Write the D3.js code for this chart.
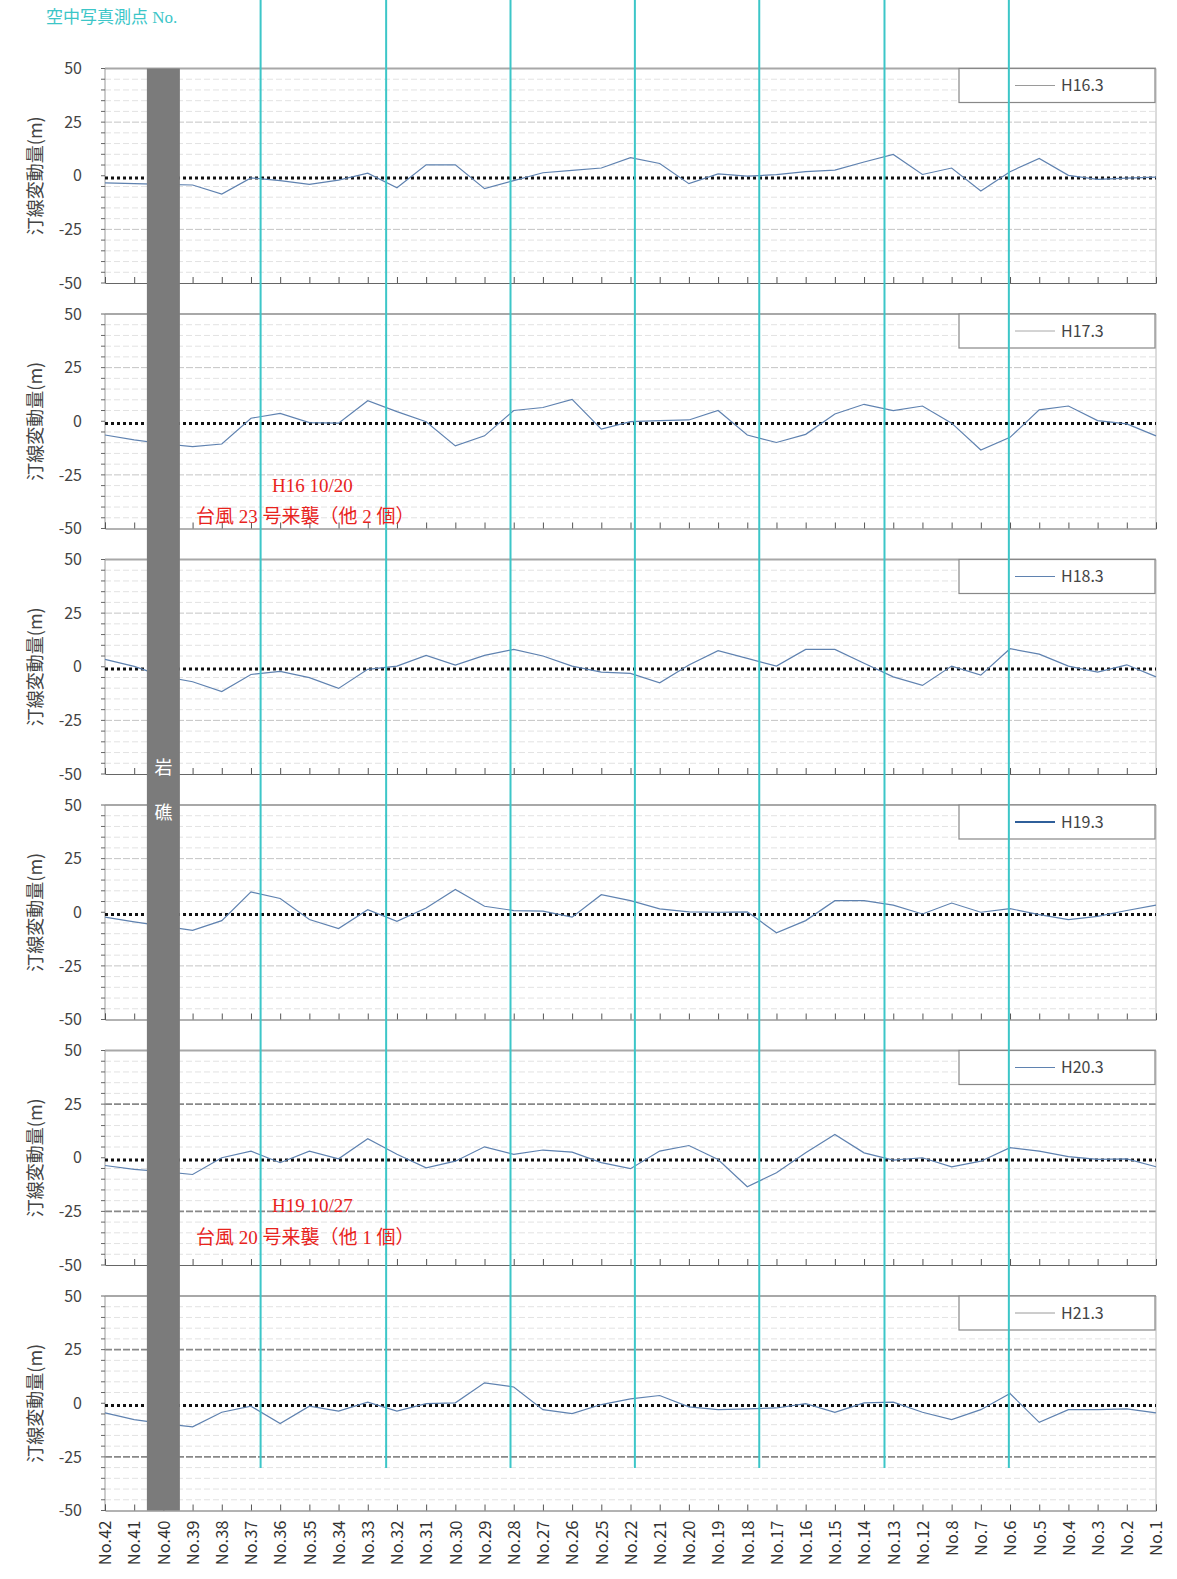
<!DOCTYPE html>
<html><head><meta charset="utf-8">
<script src="https://cdn.jsdelivr.net/npm/d3@7"></script>
<style>body{margin:0;background:#fff}</style>
</head><body>
<svg id="c" width="1177" height="1579"></svg>
<script>
// ---------- data ----------
const categories = ["No.42","No.41","No.40","No.39","No.38","No.37","No.36","No.35","No.34","No.33","No.32","No.31","No.30","No.29","No.28","No.27","No.26","No.25","No.22","No.21","No.20","No.19","No.18","No.17","No.16","No.15","No.14","No.13","No.12","No.8","No.7","No.6","No.5","No.4","No.3","No.2","No.1"];
const seriesNames = ["H16.3","H17.3","H18.3","H19.3","H20.3","H21.3"];
const h16 = [-3.3,-3.7,-4,-4.3,-8.5,-1,-2.3,-4,-2,1.2,-5.6,5.1,5.1,-6,-2.3,1.4,2.5,3.6,8.4,5.7,-3.7,0.9,-0.2,0.5,1.9,2.6,6.4,9.9,0.6,3.6,-7.1,1.9,8.1,0.2,-1.7,-1.1,-0.6];
const h17 = [-6.4,-8.7,-10.5,-11.8,-10.6,1.4,3.7,-0.6,-0.9,9.6,4.5,-0.2,-11.5,-6.8,5.0,6.4,10.2,-3.7,-0.2,0.3,0.6,5.0,-6.4,-9.9,-6.1,3.4,7.9,5.0,7.1,-0.9,-13.4,-7.5,5.3,7.1,0.3,-1.2,-6.8];
const h18 = [3.4,0.2,-4.5,-7,-11.6,-3.6,-2.2,-5.1,-10.1,-1.2,0.3,5.3,0.8,5.3,8.1,5.0,0.3,-2.5,-3.1,-7.5,0.8,7.5,3.9,0.3,8.1,8.1,1.6,-4.7,-8.7,0.3,-3.9,8.4,5.9,0.3,-2.5,0.9,-4.7];
const h19 = [-2.3,-4.5,-6.5,-8.4,-3.9,9.5,6.4,-3.4,-7.6,1.2,-4.2,2.0,10.6,2.8,0.8,0.5,-2.3,8.2,5.4,1.6,0.2,0,0.2,-9.6,-3.9,5.4,5.4,3.3,-0.8,4.3,0,1.7,-1.1,-3.4,-1.9,0.8,3.3];
const h20 = [-3.6,-5.4,-6.5,-7.8,0,3.1,-2.3,3.1,-0.5,8.9,1.6,-4.7,-1.6,5.1,1.6,3.6,2.6,-2.3,-5.1,3.1,5.7,-0.8,-13.5,-7,2.3,10.9,2.3,-1.1,0,-4.2,-1.6,4.7,3.1,0.5,-0.8,-0.5,-4.2];
const h21 = [-4.5,-7.6,-9.5,-11,-4.2,-1.4,-9.5,-1.4,-3.7,0.5,-3.7,-0.2,0.2,9.5,7.6,-3,-4.8,-0.6,2,3.6,-1.7,-3,-2.6,-2.2,-0.2,-4.2,0.2,0.5,-4.2,-7.6,-3,4.5,-8.9,-3,-3,-2.6,-4.5];
const seriesValues = [h16,h17,h18,h19,h20,h21];
const yTicks = [50,25,0,-25,-50];
const baseLineValue = -1;           // dotted reference line
const photoPoints = [5.33,9.63,13.89,18.15,22.41,26.70,30.96]; // 空中写真測点 positions (category index units)
const rockIndex = 2;                // No.40 岩礁
const annotations = [
  {panel:1, at:[-29.7,-44.4], lines:["H16 10/20","台風 23 号来襲（他 2 個）"]},
  {panel:4, at:[-22.3,-37.2], lines:["H19 10/27","台風 20 号来襲（他 1 個）"]}
];

// ---------- layout ----------
const svg = d3.select("#c");
const left = 105, right = 1156;
const top0 = 68.5, step = 245.5, ph = 214.5;
const x = d3.scalePoint().domain(categories).range([left, right]);
const xi = d3.scaleLinear().domain([0, categories.length-1]).range([left, right]);
const lineColor = "#5f82b0";
const legendColors = ["#9a9a9a","#a8a8a8","#5f82b0","#2f5f9a","#5f82b0","#9a9a9a"];
const legendWidths = [1,1,1.2,2,1.2,1];
const sans = "'Noto Sans CJK JP','Noto Sans',sans-serif";
const serif = "'Liberation Serif','DejaVu Serif','Noto Sans CJK JP',serif";
const yScales = [];

seriesValues.forEach((vals, p) => {
  const t = top0 + p*step, b = t + ph;
  const y = d3.scaleLinear().domain([-50,50]).range([b, t]);
  yScales.push(y);
  const g = svg.append("g");

  // gridlines every 5
  d3.range(-45, 50, 5).filter(v => v !== 0).forEach(v => {
    const strong = Math.abs(v) === 25;
    g.append("line").attr("x1", left).attr("x2", right).attr("y1", y(v)).attr("y2", y(v))
      .attr("stroke", strong ? (p >= 4 ? "#888" : "#c4c4c4") : "#e2e2e2")
      .attr("stroke-width", strong && p >= 4 ? 1.6 : 1)
      .attr("stroke-dasharray", strong ? "7,2" : "6,3");
  });

  // frame
  g.append("line").attr("x1", left).attr("x2", right).attr("y1", t).attr("y2", t).attr("stroke", "#a8a8a8").attr("stroke-width", 2);
  g.append("line").attr("x1", right).attr("x2", right).attr("y1", t).attr("y2", b).attr("stroke", "#b8b8b8").attr("stroke-width", 1);
  g.append("line").attr("x1", left).attr("x2", left).attr("y1", t).attr("y2", b).attr("stroke", "#999").attr("stroke-width", 1);

  // left minor ticks
  d3.range(-50, 51, 5).forEach(v => {
    g.append("line").attr("x1", left-4).attr("x2", left).attr("y1", y(v)).attr("y2", y(v)).attr("stroke", "#666").attr("stroke-width", 1);
  });

  // left axis labels
  const ax = g.append("g").attr("transform", `translate(${left-23},0)`)
    .call(d3.axisLeft(y).tickValues(yTicks).tickSize(0).tickPadding(0).tickFormat(d => String(d)));
  ax.select(".domain").remove();
  ax.selectAll("text").attr("font-family", sans).attr("font-size", 16).attr("fill", "#444");

  // bottom axis
  const bx = g.append("g").attr("transform", `translate(0,${b})`)
    .call(d3.axisBottom(x).tickSize(-6).tickFormat(p === 5 ? d => d : ""));
  bx.select(".domain").attr("stroke", "#666");
  bx.selectAll(".tick line").attr("stroke", "#555");
  if (p === 5) {
    bx.selectAll("text").attr("font-family", sans).attr("font-size", 16.5).attr("fill", "#333")
      .attr("transform", "rotate(-90)").attr("text-anchor", "end").attr("dx", -10).attr("dy", "0.35em").attr("y", 0).attr("x", 0);
  } else {
    bx.selectAll("text").remove();
  }

  // y label
  g.append("text").attr("transform", `translate(42,${(t+b)/2}) rotate(-90)`)
    .attr("text-anchor", "middle").attr("font-family", sans).attr("font-size", 18).attr("fill", "#444")
    .text("汀線変動量(m)");

  // dotted base line
  g.append("line").attr("x1", left).attr("x2", right).attr("y1", y(baseLineValue)).attr("y2", y(baseLineValue))
    .attr("stroke", "#111").attr("stroke-width", 3).attr("stroke-dasharray", "3,3");

  // data line
  const line = d3.line().x((d, i) => x(categories[i])).y(d => y(d));
  g.append("path").datum(vals).attr("d", line).attr("fill", "none").attr("stroke", lineColor).attr("stroke-width", 1.2);

  // legend
  const lx = 959, lw = 196, lh = 34;
  g.append("rect").attr("x", lx).attr("y", t).attr("width", lw).attr("height", lh).attr("fill", "#fff").attr("stroke", "#888").attr("stroke-width", 1.2);
  g.append("line").attr("x1", lx+56).attr("x2", lx+96).attr("y1", t+lh/2).attr("y2", t+lh/2)
    .attr("stroke", legendColors[p]).attr("stroke-width", legendWidths[p]);
  g.append("text").attr("x", lx+102).attr("y", t+lh/2).attr("dy", "0.35em").attr("font-family", sans).attr("font-size", 16).attr("fill", "#444").text(seriesNames[p]);
});

// rock column
const rockW = 33;
const yTopAll = top0, yBotAll = top0 + 5*step + ph;
svg.append("rect").attr("x", x(categories[rockIndex]) - rockW/2).attr("y", yTopAll).attr("width", rockW).attr("height", yBotAll - yTopAll).attr("fill", "#7b7b7b");
svg.append("text").attr("x", x(categories[rockIndex])).attr("y", 768).attr("dy", "0.35em").attr("text-anchor", "middle").attr("font-family", sans).attr("font-size", 18).attr("fill", "#fff").text("岩");
svg.append("text").attr("x", x(categories[rockIndex])).attr("y", 813).attr("dy", "0.35em").attr("text-anchor", "middle").attr("font-family", sans).attr("font-size", 18).attr("fill", "#fff").text("礁");

// photo measurement vertical lines
svg.selectAll(".pp").data(photoPoints).enter().append("line")
  .attr("x1", d => xi(d)).attr("x2", d => xi(d)).attr("y1", 0).attr("y2", 1468)
  .attr("stroke", "#3cc6c8").attr("stroke-width", 2);

svg.append("text").attr("x", 46).attr("y", 17).attr("dy", "0.35em").attr("font-family", serif).attr("font-size", 17).attr("fill", "#3cc6c8").text("空中写真測点 No.");

// annotations
annotations.forEach(a => {
  const y = yScales[a.panel];
  svg.append("text").attr("x", 272).attr("y", y(a.at[0])).attr("dy", "0.35em").attr("font-family", serif).attr("font-size", 19).attr("fill", "#e8231d").text(a.lines[0]);
  svg.append("text").attr("x", 196).attr("y", y(a.at[1])).attr("dy", "0.35em").attr("font-family", serif).attr("font-size", 19).attr("fill", "#e8231d").text(a.lines[1]);
});
</script>
</body></html>
